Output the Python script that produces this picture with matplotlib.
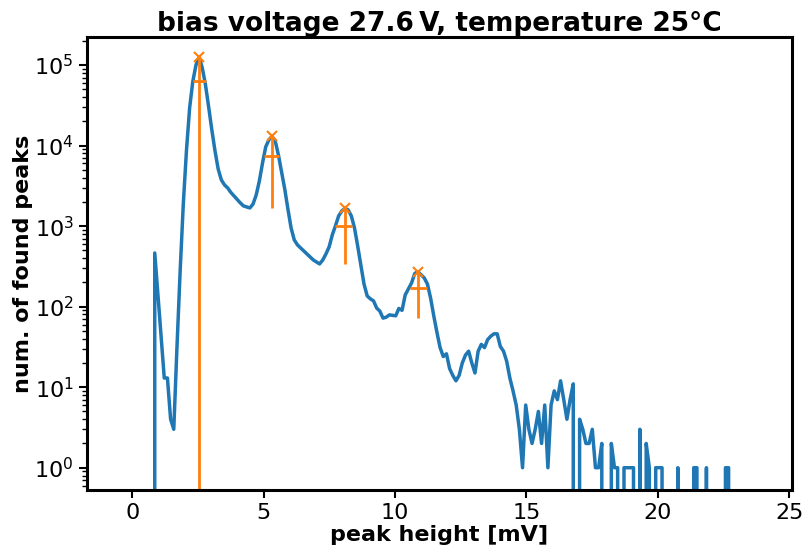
import numpy as np
import matplotlib.pyplot as plt

# histogram of found peak heights (bin counts)
bin_start = 0.729
bin_width = 0.1207
counts = [0,
          464, 141, 44, 13, 13, 4, 3, 31, 270, 1870,
          8670, 29400, 62400, 100000, 125000, 92000, 56800, 30200, 15700, 8600,
          5130, 3750, 3250, 2980, 2620, 2370, 2150, 1940, 1780, 1730,
          1680, 1880, 2440, 3650, 6110, 9640, 11800, 13000, 11400, 7660,
          4700, 2890, 1630, 950, 675, 585, 536, 492, 452, 414,
          380, 359, 339, 380, 452, 552, 778, 1010, 1340, 1545,
          1660, 1590, 1340, 950, 568, 330, 191, 136, 125, 118,
          96, 88, 72, 74, 79, 78, 77, 95, 90, 140,
          166, 197, 258, 272, 248, 227, 191, 128, 77, 48,
          31, 24, 26, 17, 14, 12, 14, 20, 25, 28,
          20, 15, 28, 34, 31, 39, 43, 46, 46, 32,
          28, 21, 13, 9, 6, 3, 1, 6, 3, 2,
          3, 5, 2, 6, 1, 6, 9, 7, 12, 7,
          4, 7, 11, 0, 4, 3, 2, 2, 3, 1,
          1, 2, 0, 0, 2, 1, 1, 0, 1, 1,
          1, 1, 0, 3, 0, 2, 1, 0, 1, 1,
          1, 0, 0, 0, 0, 1, 0, 0, 0, 0,
          1, 1, 0, 0, 1, 0, 0, 0, 0, 0,
          1, 1, 0]

# found peaks (index into counts), prominence bases, width lines
peak_idx = [15, 38, 61, 84]
prom_base = [0, 1680, 339, 72]
width_height = [62500, 7500, 990, 172]
width_left = [2.307, 4.998, 7.727, 10.556]
width_right = [2.817, 5.581, 8.375, 11.23]

counts = np.array(counts, dtype=float)
x = bin_start + bin_width * np.arange(len(counts))

fig = plt.figure(figsize=(8.03, 5.5), dpi=100)
ax = fig.add_axes([0.108, 0.109, 0.878, 0.824])
ax.set_yscale('log', nonpositive='clip')

ax.plot(x, counts, color='#1f77b4', lw=2.5)
ax.plot(x[peak_idx], counts[peak_idx], 'x', color='#ff7f0e', ms=7, mew=1.5)
ax.vlines(x[peak_idx], ymin=prom_base, ymax=counts[peak_idx], color='#ff7f0e', lw=2)
ax.hlines(width_height, width_left, width_right, color='#ff7f0e', lw=2)

ax.set_xlim(-1.74, 25.1)
ax.set_ylim(0.528, 2.24e5)
ax.set_xticks([0, 5, 10, 15, 20, 25])

for s in ax.spines.values():
    s.set_linewidth(2.2)
ax.tick_params(which='major', labelsize=16, width=1.5, length=6)
ax.tick_params(which='minor', width=1, length=3.5)

ax.set_xlabel('peak height [mV]', fontsize=16, fontweight='bold', labelpad=1)
ax.set_ylabel('num. of found peaks', fontsize=16, fontweight='bold', labelpad=1)
ax.set_title('bias voltage 27.6\u2009V, temperature 25°C', fontsize=19, fontweight='bold', pad=4)

fig.savefig('out.png', dpi=100)
